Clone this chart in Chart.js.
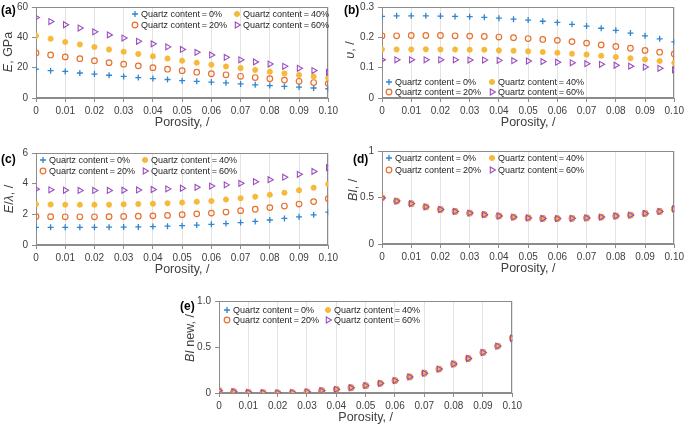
<!DOCTYPE html>
<html lang="en">
<head>
<meta charset="UTF-8">
<title>Porosity panels</title>
<script src="https://cdn.jsdelivr.net/npm/chart.js"></script>
<style>
    body { margin: 0; width: 685px; height: 429px; overflow: hidden; position: relative; background: #fff;
           font-family: "Liberation Sans", Arial, sans-serif; }
    .box { position: absolute; }
    .ytitle { position: absolute; transform: translate(-50%, -50%) rotate(-90deg); white-space: nowrap;
              font-size: 12.5px; color: #404040; }
    .tag { position: absolute; font-weight: bold; font-size: 12px; color: #000; line-height: 1; }
</style>
</head>
<body>
<div class="box" style="left:0;top:-3px;width:341px;height:137px"><canvas id="ca"></canvas></div>
<div class="box" style="left:346px;top:-3px;width:341px;height:137px"><canvas id="cb"></canvas></div>
<div class="box" style="left:0;top:143px;width:341px;height:138px"><canvas id="cc"></canvas></div>
<div class="box" style="left:346px;top:141px;width:341px;height:139px"><canvas id="cd"></canvas></div>
<div class="box" style="left:183px;top:291px;width:342px;height:138px"><canvas id="ce"></canvas></div>

<div class="ytitle" style="left:8px;top:52px"><i>E</i>, GPa</div>
<div class="ytitle" style="left:350px;top:50px"><i>υ</i>, /</div>
<div class="ytitle" style="left:9px;top:199px"><i>E</i>/<i>λ</i>, /</div>
<div class="ytitle" style="left:353px;top:190px"><i>BI</i>, /</div>
<div class="ytitle" style="left:190px;top:338px"><i>BI</i> new, /</div>

<div class="tag" style="left:1px;top:4px">(a)</div>
<div class="tag" style="left:344px;top:4px">(b)</div>
<div class="tag" style="left:1px;top:153px">(c)</div>
<div class="tag" style="left:353px;top:153px">(d)</div>
<div class="tag" style="left:180px;top:300px">(e)</div>

<script>
// porosity values (x)
const porosity = [0, 0.005, 0.01, 0.015, 0.02, 0.025, 0.03, 0.035, 0.04, 0.045, 0.05,
                  0.055, 0.06, 0.065, 0.07, 0.075, 0.08, 0.085, 0.09, 0.095, 0.1];
const seriesNames = ['Quartz content\u2009=\u20090%', 'Quartz content\u2009=\u200920%',
                     'Quartz content\u2009=\u200940%', 'Quartz content\u2009=\u200960%'];

// (a) Young's modulus E, GPa
const eQ0  = [19, 18, 17.5, 16.5, 15.8, 15, 14.2, 13.5, 12.8, 12.2, 11.4, 11, 10.5, 10, 9.3, 8.7, 8.2, 7.6, 7.2, 6.6, 6.1];
const eQ20 = [29.7, 28.4, 27.1, 25.9, 24.6, 23.3, 22.3, 21.2, 20, 19, 18, 17, 16, 15.3, 14.3, 13.5, 12.7, 11.8, 11, 10.2, 9.5];
const eQ40 = [41, 39, 37, 35.3, 33.7, 32, 30.5, 29, 27.5, 26, 24.5, 23.2, 22, 20.8, 19.7, 18.5, 17.3, 16.2, 15.1, 14.1, 13.2];
const eQ60 = [53, 50.4, 48.3, 46.1, 43.6, 41.6, 39.5, 37.4, 35.7, 33.7, 32, 30.1, 28.4, 26.8, 25.2, 23.8, 22.4, 20.9, 19.6, 18.1, 16.9];

// (b) Poisson's ratio
const vQ0  = [0.269, 0.271, 0.271, 0.271, 0.27, 0.269, 0.268, 0.266, 0.263, 0.26, 0.257, 0.253, 0.249, 0.243, 0.237, 0.23, 0.223, 0.214, 0.205, 0.195, 0.185];
const vQ20 = [0.205, 0.205, 0.206, 0.206, 0.206, 0.205, 0.204, 0.203, 0.201, 0.199, 0.196, 0.193, 0.19, 0.186, 0.181, 0.175, 0.17, 0.164, 0.157, 0.151, 0.145];
const vQ40 = [0.16, 0.16, 0.16, 0.161, 0.16, 0.16, 0.159, 0.159, 0.157, 0.156, 0.154, 0.152, 0.149, 0.146, 0.143, 0.139, 0.135, 0.131, 0.127, 0.122, 0.116];
const vQ60 = [0.126, 0.126, 0.126, 0.126, 0.126, 0.126, 0.125, 0.125, 0.124, 0.123, 0.122, 0.12, 0.118, 0.116, 0.113, 0.111, 0.108, 0.105, 0.102, 0.098, 0.093];

// (c) E / lambda
const rQ0  = [1.15, 1.15, 1.15, 1.15, 1.15, 1.16, 1.17, 1.18, 1.2, 1.23, 1.26, 1.3, 1.35, 1.4, 1.46, 1.54, 1.63, 1.73, 1.84, 1.97, 2.14];
const rQ20 = [1.86, 1.85, 1.84, 1.84, 1.84, 1.85, 1.86, 1.88, 1.9, 1.93, 1.98, 2.03, 2.08, 2.15, 2.24, 2.33, 2.44, 2.54, 2.67, 2.83, 3.02];
const rQ40 = [2.65, 2.64, 2.63, 2.62, 2.62, 2.63, 2.65, 2.67, 2.69, 2.73, 2.77, 2.82, 2.87, 2.96, 3.05, 3.15, 3.27, 3.4, 3.57, 3.74, 3.97];
const rQ60 = [3.64, 3.6, 3.57, 3.56, 3.56, 3.56, 3.57, 3.59, 3.62, 3.66, 3.7, 3.76, 3.84, 3.92, 4.02, 4.13, 4.26, 4.42, 4.61, 4.8, 5.04];

// (d) brittleness index BI (all four nearly coincide)
const biQ0  = [0.497, 0.462, 0.434, 0.399, 0.371, 0.35, 0.332, 0.315, 0.301, 0.29, 0.28, 0.274, 0.273, 0.276, 0.28, 0.29, 0.301, 0.311, 0.329, 0.35, 0.377];
const biQ20 = [0.497, 0.462, 0.434, 0.399, 0.371, 0.35, 0.332, 0.315, 0.301, 0.29, 0.28, 0.274, 0.273, 0.276, 0.28, 0.29, 0.301, 0.311, 0.329, 0.35, 0.377];
const biQ40 = [0.497, 0.462, 0.434, 0.399, 0.371, 0.35, 0.332, 0.315, 0.301, 0.29, 0.28, 0.274, 0.273, 0.276, 0.28, 0.29, 0.301, 0.311, 0.329, 0.35, 0.377];
const biQ60 = [0.497, 0.462, 0.434, 0.399, 0.371, 0.35, 0.332, 0.315, 0.301, 0.29, 0.28, 0.274, 0.273, 0.276, 0.28, 0.29, 0.301, 0.311, 0.329, 0.35, 0.377];

// (e) BI new
const bnQ0  = [0.025, 0.014, 0.007, 0.003, 0.002, 0.005, 0.013, 0.025, 0.04, 0.057, 0.08, 0.105, 0.135, 0.175, 0.215, 0.26, 0.315, 0.375, 0.44, 0.51, 0.595];
const bnQ20 = [0.025, 0.014, 0.007, 0.003, 0.002, 0.005, 0.013, 0.025, 0.04, 0.057, 0.08, 0.105, 0.135, 0.175, 0.215, 0.26, 0.315, 0.375, 0.44, 0.51, 0.595];
const bnQ40 = [0.025, 0.014, 0.007, 0.003, 0.002, 0.005, 0.013, 0.025, 0.04, 0.057, 0.08, 0.105, 0.135, 0.175, 0.215, 0.26, 0.315, 0.375, 0.44, 0.51, 0.595];
const bnQ60 = [0.025, 0.014, 0.007, 0.003, 0.002, 0.005, 0.013, 0.025, 0.04, 0.057, 0.08, 0.105, 0.135, 0.175, 0.215, 0.26, 0.315, 0.375, 0.44, 0.51, 0.595];

// marker look per quartz content
const markers = [
    { pointStyle: 'cross',    pointRadius: 3,   borderColor: '#2f85d0', backgroundColor: '#2f85d0', borderWidth: 1.3, rotation: 0 },
    { pointStyle: 'circle',   pointRadius: 2.8, borderColor: '#e8702a', backgroundColor: 'rgba(0,0,0,0)', borderWidth: 1.2, rotation: 0 },
    { pointStyle: 'star',     pointRadius: 3,   borderColor: '#f6b93b', backgroundColor: '#f6b93b', borderWidth: 1.8, rotation: 0 },
    { pointStyle: 'triangle', pointRadius: 3.4, borderColor: '#9b4dbf', backgroundColor: 'rgba(0,0,0,0)', borderWidth: 1.1, rotation: 90 }
];

// custom box border + excel-like 2x2 legend inside the plot
const panelDeco = {
    id: 'panelDeco',
    beforeDatasetsDraw(chart) {
        const { ctx, chartArea: a } = chart;
        ctx.save();
        ctx.strokeStyle = '#8c8c8c';
        ctx.lineWidth = 1;
        ctx.strokeRect(Math.round(a.left) + 0.5, Math.round(a.top) + 0.5,
                       Math.round(a.right - a.left) - 1, Math.round(a.bottom - a.top) - 1);
        ctx.restore();
    },
    afterDraw(chart, args, opts) {
        const { ctx, chartArea: a } = chart;
        ctx.save();
        ctx.font = '9px "Liberation Sans", Arial, sans-serif';
        ctx.textBaseline = 'middle';
        chart.data.datasets.forEach((ds, i) => {
            const col = [0, 0, 1, 1][i], row = [0, 1, 0, 1][i];
            const x = a.left + opts.x + col * opts.colGap;
            const y = a.top + opts.y + row * opts.rowGap;
            ctx.fillStyle = ds.backgroundColor;
            ctx.strokeStyle = ds.borderColor;
            ctx.lineWidth = ds.borderWidth;
            Chart.helpers.drawPoint(ctx, { pointStyle: ds.pointStyle, radius: ds.pointRadius,
                                           borderWidth: ds.borderWidth, rotation: ds.rotation }, x, y);
            ctx.fillStyle = '#262626';
            ctx.fillText(ds.label, x + 6, y + 0.5);
        });
        ctx.restore();
    }
};

function makePanel(id, series, yMin, yMax, yStep, yFmt, legendPos) {
    const datasets = series.map((vals, i) => Object.assign({
        label: seriesNames[i],
        data: porosity.map((p, k) => ({ x: p, y: vals[k] })),
        order: 3 - i,
        showLine: false
    }, markers[i]));

    new Chart(document.getElementById(id), {
        type: 'scatter',
        data: { datasets },
        plugins: [panelDeco],
        options: {
            responsive: true,
            maintainAspectRatio: false,
            animation: false,
            layout: { padding: { top: 8, right: 12, left: 0, bottom: 0 } },
            plugins: {
                legend: { display: false },
                tooltip: { enabled: false },
                panelDeco: legendPos
            },
            scales: {
                x: {
                    type: 'linear', min: 0, max: 0.1,
                    afterFit: s => { s.height = 36; },
                    ticks: { stepSize: 0.01, color: '#404040', padding: 3,
                             font: { size: 10, family: '"Liberation Sans", Arial' },
                             callback: v => v === 0 ? '0' : v.toFixed(2) },
                    grid: { color: '#e3e3e3', tickColor: '#8c8c8c', tickLength: 4 },
                    border: { color: '#8c8c8c' },
                    title: { display: true, text: 'Porosity, /', color: '#404040',
                             font: { size: 12.5, family: '"Liberation Sans", Arial' },
                             padding: { top: 0, bottom: 4 } }
                },
                y: {
                    min: yMin, max: yMax,
                    afterFit: s => { s.width = 36; },
                    ticks: { stepSize: yStep, color: '#404040', padding: 4,
                             font: { size: 10, family: '"Liberation Sans", Arial' },
                             callback: yFmt },
                    grid: { drawOnChartArea: false, tickColor: '#8c8c8c', tickLength: 4 },
                    border: { color: '#8c8c8c' }
                }
            }
        }
    });
}

makePanel('ca', [eQ0, eQ20, eQ40, eQ60], 0, 60, 20, v => String(v),
          { x: 99, y: 7, colGap: 102, rowGap: 11 });
makePanel('cb', [vQ0, vQ20, vQ40, vQ60], 0, 0.3, 0.1, v => v === 0 ? '0' : v.toFixed(1),
          { x: 7, y: 75, colGap: 103, rowGap: 10 });
makePanel('cc', [rQ0, rQ20, rQ40, rQ60], 0, 6, 2, v => String(v),
          { x: 7, y: 7, colGap: 102, rowGap: 11 });
makePanel('cd', [biQ0, biQ20, biQ40, biQ60], 0, 1, 0.5, v => v === 0 ? '0' : (v === 1 ? '1' : v.toFixed(1)),
          { x: 7, y: 7, colGap: 103, rowGap: 12 });
makePanel('ce', [bnQ0, bnQ20, bnQ40, bnQ60], 0, 1, 0.5, v => v === 0 ? '0' : v.toFixed(1),
          { x: 8, y: 9, colGap: 101, rowGap: 10 });
</script>
</body>
</html>
